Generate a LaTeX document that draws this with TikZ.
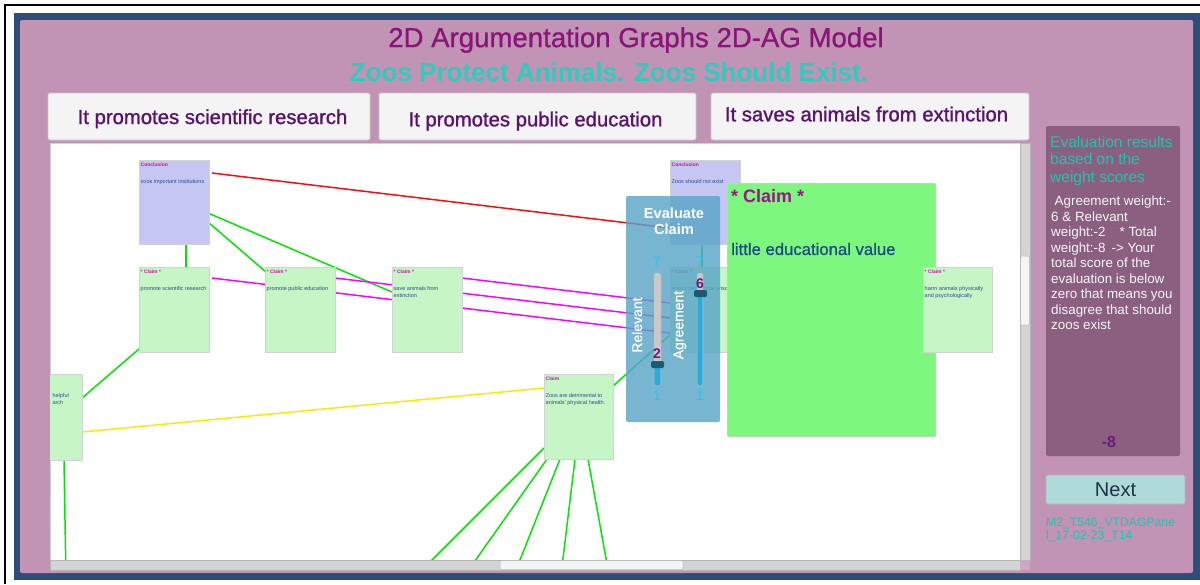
\documentclass[tikz,border=0pt]{standalone}
\usepackage{fontspec}
\setmainfont{Liberation Sans}
\newfontfamily\boldish[FakeBold=1.3]{Liberation Sans}
\newfontfamily\semibold[FakeBold=0.8]{Liberation Sans}
\usetikzlibrary{calc}
\definecolor{frameblue}{HTML}{2E4C78}
\definecolor{panelpink}{HTML}{C193B4}
\definecolor{titlepurple}{HTML}{8A1478}
\definecolor{subteal}{HTML}{2CCDBD}
\definecolor{btnfill}{HTML}{F4F4F4}
\definecolor{btnline}{HTML}{C8C8C8}
\definecolor{btntext}{HTML}{5A1470}
\definecolor{concfill}{HTML}{C6C6F2}
\definecolor{claimfill}{HTML}{C6F6C6}
\definecolor{boxline}{HTML}{D2D2D2}
\definecolor{nodetitle}{HTML}{C0169E}
\definecolor{nodebody}{HTML}{2B4B8F}
\definecolor{edgegreen}{HTML}{00E800}
\definecolor{edgered}{HTML}{FF0A0A}
\definecolor{edgemag}{HTML}{FF00FF}
\definecolor{edgeyellow}{HTML}{FFE800}
\definecolor{evalblue}{HTML}{5AA5C8}
\definecolor{trackgray}{HTML}{C9C9C9}
\definecolor{trackblue}{HTML}{2BAADD}
\definecolor{handlecol}{HTML}{1B5A72}
\definecolor{numcyan}{HTML}{2AC4F0}
\definecolor{numpurple}{HTML}{6B1A7E}
\definecolor{bigfill}{HTML}{7DF77D}
\definecolor{bigline}{HTML}{B8D8B8}
\definecolor{bigtitle}{HTML}{A0128A}
\definecolor{bigbody}{HTML}{1B4A84}
\definecolor{resfill}{HTML}{8A5F80}
\definecolor{resteal}{HTML}{22C3B2}
\definecolor{restext}{HTML}{F6F6F6}
\definecolor{nextfill}{HTML}{AEDADA}
\definecolor{nexttext}{HTML}{1C3444}
\definecolor{scrolltrack}{HTML}{D4D4D4}
\definecolor{scrollline}{HTML}{B5B5B5}
\definecolor{scrollhandle}{HTML}{F4F4F4}
\definecolor{cornerpink}{HTML}{CBA9C3}
\pgfdeclarelayer{bg}
\pgfdeclarelayer{edges}
\pgfsetlayers{bg,edges,main}
\newcommand\nwp[3]{([shift={(#2,#3)}]#1.north west)}
\newcommand\argbox[8]{%
  \node[abox, fill=#6, minimum width=#4, minimum height=#5] (#1) at (#2,#3) {};
  \node[atitle] (#1-t) at \nwp{#1}{1.5}{4.5} {#7};
  \node[abody] (#1-b) at \nwp{#1}{1.5}{19.5} {#8};
}
\tikzset{
  abox/.style={draw=boxline, line width=0.8, anchor=north west, inner sep=0, outer sep=0},
  atitle/.style={anchor=west, inner sep=0, text=nodetitle, font=\fontsize{5}{6}\selectfont\bfseries},
  abody/.style={anchor=north west, inner sep=0, align=left, text=nodebody, font=\fontsize{5.5}{7}\selectfont},
  btn/.style={draw=btnline, fill=btnfill, rounded corners=2, line width=0.8, minimum width=#1, minimum height=47, inner sep=0},
  btntxt/.style={anchor=base, inner sep=0, text=btntext, font=\boldish\fontsize{20.3}{22}\selectfont},
  edge/.style={line width=1.5},
  track/.style={fill=trackgray, draw=scrollline, line width=0.4, rounded corners=1.5},
  num/.style={inner sep=0, font=\fontsize{14}{16}\selectfont},
}
\begin{document}
\begin{tikzpicture}[x=1pt,y=-1pt]
\useasboundingbox (0,0) rectangle (1200,584);
\begin{pgfonlayer}{bg}
\fill[white] (0,0) rectangle (1200,584);
\draw[black, line width=1.2] (5,584) -- (5,5) -- (1200,5);
\fill[frameblue] (14,13) rectangle (1200,580);
\fill[panelpink, rounded corners=2] (20,20) rectangle (1193,573);
\node[inner sep=0, text=titlepurple, font=\semibold\fontsize{27.6}{30}\selectfont] (title) at (636,40) {2D Argumentation Graphs 2D-AG Model};
\node[inner sep=0, text=subteal, font=\fontsize{26}{28}\selectfont\bfseries] (subtitle) at (609,72) {Zoos Protect Animals. Zoos Should Exist.};
\node[btn=322] (b1) at (209,116.5) {};
\node[btn=317] (b2) at (537.5,116.5) {};
\node[btn=318] (b3) at (870,116.5) {};
\node[btntxt] (b1-t) at (212.5,124) {It promotes scientific research};
\node[btntxt] (b2-t) at (535.5,126.3) {It promotes public education};
\node[btntxt] (b3-t) at (866.5,121.3) {It saves animals from extinction};
\fill[white] (50,143) rectangle (1020,560);
\draw[boxline, line width=0.6] (50,143) rectangle (1020,560);
\end{pgfonlayer}

% graph nodes
\begin{scope}
\clip (50,143) rectangle (1020,560);
\argbox{c1}{139}{160}{70}{84}{concfill}{Conclusion}{zoos important institutions}
\argbox{A}{139}{267}{70}{85}{claimfill}{* Claim *}{promote scientific research}
\argbox{B}{265}{267}{70}{85}{claimfill}{* Claim *}{promote public education}
\argbox{C}{392}{267}{70}{85}{claimfill}{* Claim *}{save animals from\\extinction}
\argbox{c2}{670}{160}{70}{84}{concfill}{Conclusion}{Zoos should not exist}
\argbox{D}{670}{267}{70}{85}{claimfill}{* Claim *}{zoos cruel animal prison}
\argbox{E}{544}{374}{69}{85}{claimfill}{Claim}{Zoos are detrimental to\\animals' physical health.}
\node[abox, fill=claimfill, minimum width=70, minimum height=86] (F) at (12,374) {};
\node[abody, anchor=north east] (F-b) at \nwp{F}{57}{19.5} {helpful\\arch};
\coordinate (fbot) at (66,580);
\coordinate (e1) at (417,575);
\coordinate (e2) at (465,575);
\coordinate (e3) at (514,575);
\coordinate (e4) at (561,575);
\coordinate (e5) at (609,575);
\end{scope}

% edges
\begin{pgfonlayer}{edges}
\begin{scope}
\clip (50,143) rectangle (1020,560);
\draw[edge, edgegreen] \nwp{c1}{47}{84} -- \nwp{A}{47}{0};
\draw[edge, edgegreen] \nwp{c1}{69}{62} -- \nwp{B}{1}{5};
\draw[edge, edgegreen] \nwp{c1}{69}{53} -- \nwp{C}{0}{25};
\draw[edge, edgegreen] \nwp{A}{0}{82} -- \nwp{F}{70}{24};
\draw[edge, edgegreen] \nwp{F}{52}{86} -- (fbot);
\draw[edge, edgegreen] \nwp{c2}{32}{84} -- \nwp{D}{32}{0};
\draw[edge, edgegreen] \nwp{E}{69}{12} -- \nwp{D}{0}{68};
\draw[edge, edgegreen] \nwp{E}{0}{74} -- (e1);
\draw[edge, edgegreen] \nwp{E}{3}{85} -- (e2);
\draw[edge, edgegreen] \nwp{E}{16}{85} -- (e3);
\draw[edge, edgegreen] \nwp{E}{31}{85} -- (e4);
\draw[edge, edgegreen] \nwp{E}{44}{85} -- (e5);
\draw[edge, edgered] \nwp{c1}{73}{13} -- \nwp{c2}{0}{68};
\draw[edge, edgemag] \nwp{A}{73}{11} -- \nwp{D}{0}{66};
\draw[edge, edgemag] \nwp{B}{70}{11} -- \nwp{D}{0}{51};
\draw[edge, edgemag] \nwp{C}{70}{11} -- \nwp{D}{0}{36};
\draw[edge, edgeyellow] \nwp{F}{70}{58} -- \nwp{E}{0}{14};
\end{scope}
\end{pgfonlayer}

% evaluate panel
\fill[evalblue, opacity=0.82, rounded corners=2] (626,196) rectangle (720,422);
\node[inner sep=0, align=center, text=white, font=\fontsize{14.6}{16}\selectfont\bfseries] (evtitle) at (674,221) {Evaluate\\Claim};
\node[num, text=numcyan] (r7) at (657,262) {7};
\node[num, text=numcyan] (a7) at (700,262) {7};
\draw[track] (654,273) rectangle (661,386);
\fill[trackblue, rounded corners=1.5] (654.4,364) rectangle (660.6,385.6);
\draw[track] (697,273) rectangle (703,386);
\fill[trackblue, rounded corners=1.5] (697.4,293) rectangle (702.6,385.6);
\fill[handlecol, rounded corners=1.5] (651,361) rectangle (664,368);
\fill[handlecol, rounded corners=1.5] (694,290) rectangle (707,297);
\node[num, text=numpurple, font=\fontsize{14}{16}\selectfont\bfseries] (r2) at (657,354) {2};
\node[num, text=numpurple, font=\fontsize{14}{16}\selectfont\bfseries] (a6) at (700,284) {6};
\node[num, text=numcyan] (r1) at (657,396) {1};
\node[num, text=numcyan] (a1) at (700,396) {1};
\node[inner sep=0, rotate=90, text=white, font=\semibold\fontsize{14}{16}\selectfont] (rel) at (637,325) {Relevant};
\node[inner sep=0, rotate=90, text=white, font=\semibold\fontsize{14}{16}\selectfont] (agr) at (680,325) {Agreement};

% big claim
\node[draw=bigline, line width=0.8, fill=bigfill, rounded corners=1, anchor=north west, minimum width=208, minimum height=253, inner sep=0] (big) at (727,183) {};
\node[anchor=west, inner sep=0, text=bigtitle, font=\fontsize{18}{20}\selectfont\bfseries] (big-t) at \nwp{big}{4}{13} {* Claim *};
\node[anchor=west, inner sep=0, text=bigbody, font=\semibold\fontsize{16.7}{19}\selectfont] (big-b) at \nwp{big}{4}{66} {little educational value};

% right claim on top
\argbox{G}{923}{267}{69}{85}{claimfill}{* Claim *}{harm animals physically\\and psychologically}

% scrollbars
\draw[scrollline, fill=scrolltrack, line width=0.5] (1020,143) rectangle (1030,560);
\draw[scrollline, fill=scrollhandle, line width=0.5, rounded corners=1] (1020.5,256) rectangle (1029.5,325);
\draw[scrollline, fill=scrolltrack, line width=0.5] (50,560) rectangle (1020,570);
\draw[scrollline, fill=scrollhandle, line width=0.5, rounded corners=1] (500,560.5) rectangle (683,569.5);
\fill[cornerpink] (1020,560) rectangle (1030,570);

% results panel
\fill[resfill, rounded corners=2] (1046,126) rectangle (1180,456);
\node[anchor=north west, inner sep=0, align=left, text=resteal, font=\fontsize{15.5}{17.5}\selectfont] (reshead) at (1050,136) {Evaluation results\\based on the\\weight scores};
\node[anchor=north west, inner sep=0, align=left, text=restext, font=\fontsize{13.4}{15.5}\selectfont] (resbody) at (1051,196) {\hspace*{3.5pt}Agreement weight:-\\6 \& Relevant\\weight:-2\hspace{14pt}* Total\\weight:-8\hspace{6pt}-> Your\\total score of the\\evaluation is below\\zero that means you\\disagree that should\\zoos exist};
\node[inner sep=0, text=numpurple, font=\fontsize{16}{18}\selectfont\bfseries] (score) at (1109,442) {-8};

% next button
\node[draw=scrollline, fill=nextfill, rounded corners=2, line width=0.8, minimum width=139, minimum height=29, inner sep=0, text=nexttext, font=\fontsize{20}{22}\selectfont] (next) at (1115.5,489.5) {Next};
\node[anchor=north west, inner sep=0, align=left, text=resteal, font=\fontsize{12.2}{13}\selectfont] (fileid) at (1046,517.5) {M2\_T546\_VTDAGPane\\l\_17-02-23\_T14};
\end{tikzpicture}
\end{document}
